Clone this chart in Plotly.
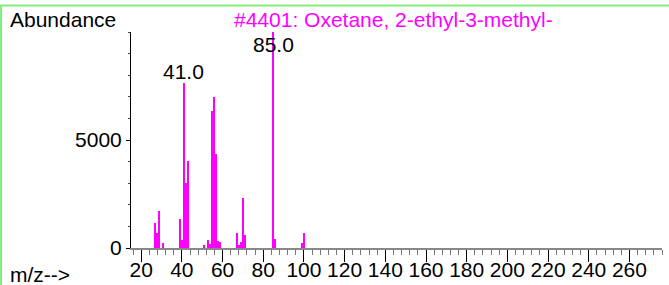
import plotly.graph_objects as go

# ---- data ----
mz = [27, 28, 29, 31, 39, 40, 41, 42, 43, 51, 53, 54, 55, 56, 57, 58, 59,
      67, 68, 69, 70, 71, 85, 86, 99, 100]
abundance = [1170, 700, 1700, 230, 1330, 360, 7650, 3020, 4010, 130, 370, 185,
             6350, 7000, 4340, 310, 265, 700, 140, 290, 2330, 600, 9999, 400, 245, 710]
peak_mz = [41, 85]
peak_labels = ["41.0", "85.0"]
peak_label_y = [8150, 9420]
x_tick_vals = list(range(20, 261, 20))
x_tick_text = [str(v) for v in x_tick_vals]
y_tick_vals = [0, 5000]
y_tick_text = ["0", "5000"]
title_text = "#4401: Oxetane, 2-ethyl-3-methyl-"
y_label = "Abundance"
x_label = "m/z-->"

# ---- layout geometry (pixels) ----
W, H = 669, 285
L, R, T, B = 131, 7, 32, 37
PW, PH = W - L - R, H - T - B
FONT = "Liberation Sans, Arial, sans-serif"
MAG = "#ff00ff"
FS = 21


def px(x):
    return (x - L) / PW


def py(y):
    return (H - B - y) / PH


fig = go.Figure()
fig.add_trace(go.Bar(x=mz, y=abundance, width=0.55, marker=dict(color=MAG, line=dict(width=0)),
                     showlegend=False, hoverinfo="x+y"))

fig.update_layout(
    width=W, height=H,
    margin=dict(l=L, r=R, t=T, b=B, pad=0, autoexpand=False),
    paper_bgcolor="white", plot_bgcolor="white",
    font=dict(family=FONT, size=FS, color="black"),
    bargap=0,
    xaxis=dict(range=[15, 276], showgrid=False, zeroline=False, automargin=False,
               tickmode="array", tickvals=x_tick_vals, ticktext=x_tick_text,
               ticks="outside", ticklen=12, tickcolor="black", tickwidth=1,
               ticklabelstandoff=-10,
               showline=True, linecolor="#888888", linewidth=2,
               tickfont=dict(size=FS, family=FONT, color="black"),
               minor=dict(dtick=4, tick0=0, ticks="outside", ticklen=5, tickcolor="#777777", tickwidth=1, showgrid=False)),
    yaxis=dict(range=[0, 10000], showgrid=False, zeroline=False, automargin=False,
               tickmode="array", tickvals=y_tick_vals, ticktext=y_tick_text,
               ticks="outside", ticklen=4, tickcolor="black", tickwidth=1,
               showline=True, linecolor="black", linewidth=1,
               tickfont=dict(size=FS, family=FONT, color="black"),
               minor=dict(dtick=1000, tick0=0, ticks="outside", ticklen=2, tickcolor="#444444", tickwidth=1, showgrid=False)),
)

ann = [
    dict(text=y_label, x=px(8), y=py(19), xanchor="left", yanchor="middle",
         font=dict(size=FS, color="black")),
    dict(text=title_text, x=px(232), y=py(19), xanchor="left", yanchor="middle",
         font=dict(size=FS, color=MAG)),
    dict(text=x_label, x=px(8), y=py(274), xanchor="left", yanchor="middle",
         font=dict(size=FS, color="black")),
]
for xm, lab, yv in zip(peak_mz, peak_labels, peak_label_y):
    ann.append(dict(text=lab, x=xm, y=yv, xref="x", yref="y", xanchor="center", yanchor="middle",
                    showarrow=False, font=dict(size=FS, color="black")))
for a in ann:
    a.setdefault("xref", "paper")
    a.setdefault("yref", "paper")
    a.setdefault("showarrow", False)
fig.update_layout(annotations=ann)

# light green frame lines (top and left)
fig.add_shape(type="line", xref="paper", yref="paper", x0=px(0), x1=px(W), y0=py(5.5), y1=py(5.5),
              line=dict(color="#80f080", width=2))
fig.add_shape(type="line", xref="paper", yref="paper", x0=px(1), x1=px(1), y0=py(5.5), y1=py(H),
              line=dict(color="#80f080", width=2))

fig.write_html("out.html", config={"displayModeBar": False},
               post_script="document.body.style.margin='0';document.body.style.overflow='hidden';")
